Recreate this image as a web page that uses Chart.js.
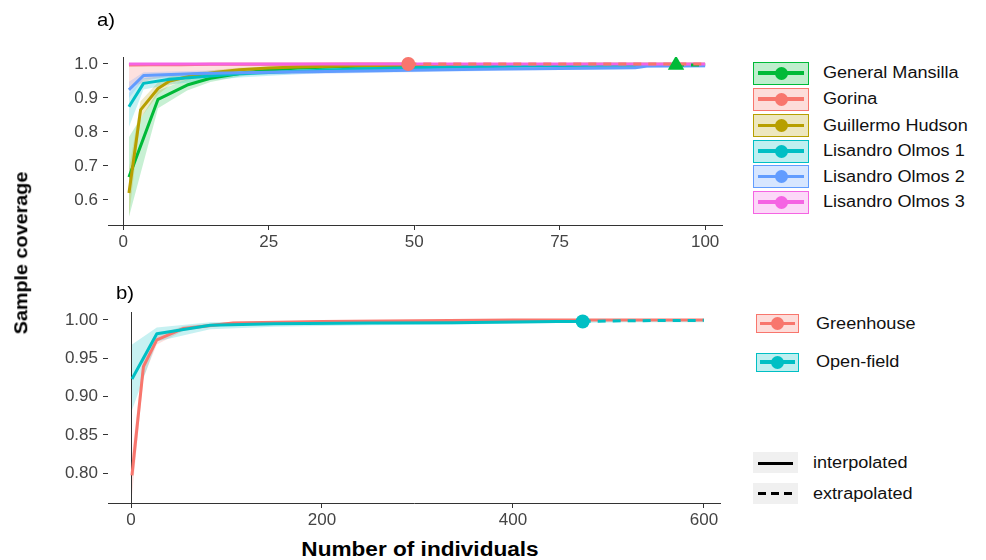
<!DOCTYPE html>
<html><head><meta charset="utf-8">
<script src="https://cdn.jsdelivr.net/npm/chart.js@4/dist/chart.umd.min.js"></script>
<style>
html,body{margin:0;padding:0;background:#fff;width:986px;height:560px;overflow:hidden;font-family:"Liberation Sans",Arial,sans-serif;}
.cw{position:absolute;left:0;}
.t{position:absolute;white-space:nowrap;color:#000;line-height:1;}
.lt{transform-origin:0 50%;transform:translateY(-50%) scaleX(1.13);font-size:16px;color:#111;}
.box{position:absolute;box-sizing:border-box;}
.ln{position:absolute;}
.dot{position:absolute;border-radius:50%;}
</style></head><body>
<div class="cw" style="top:0;width:740px;height:250px;"><canvas id="ca" width="740" height="250"></canvas></div>
<div class="cw" style="top:260px;width:740px;height:270px;"><canvas id="cb" width="740" height="270"></canvas></div>
<div id="overlay"></div>
<script>
// ---------- axis ticks ----------
const xTicksA = [0, 25, 50, 75, 100];
const yTicksA = [0.6, 0.7, 0.8, 0.9, 1.0];
const xTicksB = [0, 200, 400, 600];
const yTicksB = [0.80, 0.85, 0.90, 0.95, 1.00];

// ---------- panel a: sites ----------
const sitesA = ["General Mansilla", "Gorina", "Guillermo Hudson", "Lisandro Olmos 1", "Lisandro Olmos 2", "Lisandro Olmos 3"];
const colorsA = ["#00BA38", "#F8766D", "#B79F00", "#00BFC4", "#619CFF", "#F564E3"];
const obsA = [95, 49, null, null, null, null];
const shapesA = ["triangle", "circle", "circle", "circle", "circle", "circle"];

const mGM   = [1, 6, 11, 15, 20, 25, 30, 40, 50, 60, 70, 80, 95, 100];
const covGM = [0.667, 0.896, 0.938, 0.958, 0.972, 0.982, 0.988, 0.993, 0.995, 0.996, 0.997, 0.997, 0.997, 0.997];
const loGM  = [0.550, 0.870, 0.922, 0.947, 0.963, 0.975, 0.983, 0.990, 0.992, 0.994, 0.995, 0.995, 0.995, 0.995];
const hiGM  = [0.785, 0.922, 0.954, 0.969, 0.981, 0.989, 0.993, 0.996, 0.998, 0.999, 0.999, 0.999, 0.999, 0.999];

const mGO   = [1, 5, 10, 15, 20, 25, 30, 40, 49, 60, 70, 80, 90, 100];
const covGO = [0.997, 0.998, 0.998, 0.999, 0.999, 0.999, 0.999, 1.0, 1.0, 1.0, 1.0, 1.0, 1.0, 1.0];
const loGO  = [0.930, 0.955, 0.970, 0.978, 0.983, 0.987, 0.990, 0.993, 0.995, 0.997, 0.998, 0.999, 0.999, 0.999];
const hiGO  = [1.0, 1.0, 1.0, 1.0, 1.0, 1.0, 1.0, 1.0, 1.0, 1.0, 1.0, 1.0, 1.0, 1.0];

const mGH   = [1, 3, 6, 8, 12, 16, 20, 25, 30, 40, 50, 60, 70, 80, 90, 100];
const covGH = [0.620, 0.865, 0.928, 0.950, 0.966, 0.976, 0.983, 0.988, 0.991, 0.995, 0.997, 0.998, 0.998, 0.999, 0.999, 0.999];
const loGH  = [0.550, 0.840, 0.910, 0.937, 0.957, 0.969, 0.977, 0.984, 0.988, 0.993, 0.995, 0.996, 0.997, 0.998, 0.998, 0.998];
const hiGH  = [0.690, 0.890, 0.946, 0.963, 0.975, 0.983, 0.989, 0.992, 0.994, 0.997, 0.999, 1.0, 1.0, 1.0, 1.0, 1.0];

const mL1   = [1, 3.5, 8, 15, 20, 30, 40, 50, 60, 70, 80, 90, 100];
const covL1 = [0.874, 0.943, 0.955, 0.965, 0.971, 0.979, 0.985, 0.989, 0.992, 0.994, 0.996, 0.997, 0.998];
const loL1  = [0.815, 0.925, 0.940, 0.952, 0.960, 0.970, 0.978, 0.983, 0.987, 0.990, 0.992, 0.994, 0.995];
const hiL1  = [0.915, 0.958, 0.967, 0.975, 0.980, 0.986, 0.991, 0.994, 0.996, 0.997, 0.998, 0.999, 0.999];

const mL2   = [1, 3.5, 13, 25, 35, 44, 55, 65, 75, 88, 90, 100];
const covL2 = [0.924, 0.966, 0.972, 0.976, 0.978, 0.980, 0.983, 0.985, 0.987, 0.989, 0.994, 0.995];
const loL2  = [0.900, 0.955, 0.963, 0.968, 0.971, 0.974, 0.977, 0.980, 0.982, 0.985, 0.988, 0.990];
const hiL2  = [0.948, 0.976, 0.980, 0.983, 0.985, 0.986, 0.988, 0.990, 0.992, 0.995, 0.997, 0.999];

const mL3   = [1, 100];
const covL3 = [1.0, 1.0];
const loL3  = [1.0, 1.0];
const hiL3  = [1.0, 1.0];

// ---------- panel b: systems ----------
const systemsB = ["Greenhouse", "Open-field"];
const colorsB = ["#F8766D", "#00BFC4"];
const obsB = [null, 473];

const mGR   = [1, 13, 27, 55, 107, 200, 300, 400, 500, 600];
const covGR = [0.797, 0.939, 0.974, 0.989, 0.996, 0.998, 0.999, 1.0, 1.0, 1.0];
const loGR  = [0.770, 0.925, 0.968, 0.986, 0.994, 0.997, 0.998, 0.999, 0.999, 0.999];
const hiGR  = [0.824, 0.953, 0.980, 0.992, 0.998, 0.999, 1.0, 1.0, 1.0, 1.0];

const mOF   = [1, 27, 83, 150, 250, 337, 400, 446, 473, 520, 600];
const covOF = [0.923, 0.982, 0.993, 0.995, 0.996, 0.9965, 0.9975, 0.998, 0.998, 0.999, 0.9995];
const loOF  = [0.882, 0.972, 0.988, 0.991, 0.993, 0.994, 0.995, 0.996, 0.996, 0.997, 0.997];
const hiOF  = [0.968, 0.990, 0.997, 0.998, 0.998, 0.998, 0.999, 1.0, 1.0, 1.0, 1.0];

// ---------- helpers ----------
function rgba(hex, a) {
  const n = parseInt(hex.slice(1), 16);
  return `rgba(${(n >> 16) & 255},${(n >> 8) & 255},${n & 255},${a})`;
}
function pts(m, v) { return m.map((x, j) => ({ x: x, y: v[j] })); }

function buildDatasets(series) {
  const ds = [];
  series.forEach((s, i) => {
    ds.push({ data: pts(s.m, s.hi), borderWidth: 0, pointRadius: 0, fill: '+1',
      backgroundColor: rgba(s.color, 0.22), order: 200 - i });
    ds.push({ data: pts(s.m, s.lo), borderWidth: 0, pointRadius: 0, fill: false, order: 200 - i });
  });
  series.forEach((s, i) => {
    const all = pts(s.m, s.cov);
    const inter = s.obs == null ? all : all.filter(p => p.x <= s.obs);
    ds.push({ data: inter, borderColor: s.color, borderWidth: 3, pointRadius: 0, fill: false,
      borderCapStyle: 'butt', borderJoinStyle: 'round', order: 100 - i });
  });
  series.forEach((s, i) => {
    if (s.obs == null) return;
    const all = pts(s.m, s.cov);
    const extra = all.filter(p => p.x >= s.obs);
    ds.push({ data: extra, borderColor: s.color, borderWidth: 3, borderDash: [8, 7], pointRadius: 0, fill: false,
      borderCapStyle: 'butt', order: 50 - i });
    const j = s.m.indexOf(s.obs);
    ds.push({ data: [{ x: s.obs, y: s.cov[j] }], showLine: false, pointStyle: s.shape,
      pointRadius: s.shape === 'triangle' ? 9.5 : 7, backgroundColor: s.color, borderColor: s.color,
      borderWidth: 0, order: 10 - i });
  });
  return ds;
}

const zeroLine = {
  id: 'zeroLine',
  beforeDatasetsDraw(chart) {
    const { ctx, chartArea, scales } = chart;
    const px = Math.round(scales.x.getPixelForValue(0)) + 0.5;
    ctx.save();
    ctx.strokeStyle = '#333'; ctx.lineWidth = 1;
    ctx.beginPath(); ctx.moveTo(px, chartArea.top); ctx.lineTo(px, chartArea.bottom); ctx.stroke();
    ctx.restore();
  }
};

function makeChart(id, datasets, xr, yr, xt, yt, dec, padTop, padRight, xh) {
  const tickFont = { family: "'Liberation Sans', Arial, sans-serif", size: 17 };
  return new Chart(document.getElementById(id), {
    type: 'line',
    data: { datasets },
    plugins: [zeroLine],
    options: {
      responsive: false, animation: false, devicePixelRatio: 1,
      layout: { padding: { top: padTop, right: padRight, left: 0, bottom: 0 } },
      plugins: { legend: { display: false }, tooltip: { enabled: false } },
      elements: { line: { tension: 0 } },
      scales: {
        x: {
          type: 'linear', min: xr[0], max: xr[1],
          afterBuildTicks: s => { s.ticks = xt.map(v => ({ value: v })); },
          afterFit: s => { s.height = xh; },
          grid: { drawOnChartArea: false, drawTicks: true, tickLength: 5, color: '#333', tickColor: '#333' },
          border: { display: true, color: '#333', width: 1 },
          ticks: { color: '#444', font: tickFont, padding: 2, maxRotation: 0, autoSkip: false,
            callback: v => String(v) }
        },
        y: {
          type: 'linear', min: yr[0], max: yr[1],
          afterBuildTicks: s => { s.ticks = yt.map(v => ({ value: v })); },
          afterFit: s => { s.width = 108; },
          grid: { drawOnChartArea: false, drawTicks: true, tickLength: 5, color: '#333', tickColor: '#333' },
          border: { display: false },
          ticks: { color: '#444', font: tickFont, padding: 5, autoSkip: false,
            callback: v => Number(v).toFixed(dec) }
        }
      }
    }
  });
}

const seriesA = [
  { m: mGM, cov: covGM, lo: loGM, hi: hiGM },
  { m: mGO, cov: covGO, lo: loGO, hi: hiGO },
  { m: mGH, cov: covGH, lo: loGH, hi: hiGH },
  { m: mL1, cov: covL1, lo: loL1, hi: hiL1 },
  { m: mL2, cov: covL2, lo: loL2, hi: hiL2 },
  { m: mL3, cov: covL3, lo: loL3, hi: hiL3 }
].map((s, i) => Object.assign(s, { name: sitesA[i], color: colorsA[i], obs: obsA[i], shape: shapesA[i] }));

const seriesB = [
  { m: mGR, cov: covGR, lo: loGR, hi: hiGR },
  { m: mOF, cov: covOF, lo: loOF, hi: hiOF }
].map((s, i) => Object.assign(s, { name: systemsB[i], color: colorsB[i], obs: obsB[i], shape: 'circle' }));

makeChart('ca', buildDatasets(seriesA), [-2.6, 102.9], [0.526, 1.0206], xTicksA, yTicksA, 1, 57, 18, 25);
makeChart('cb', buildDatasets(seriesB), [-24.1, 616.8], [0.761, 1.0104], xTicksB, yTicksB, 2, 52, 20, 27);

// ---------- text & legends (HTML) ----------
const ov = document.getElementById('overlay');
function el(cls, css, text) {
  const d = document.createElement('div');
  d.className = cls; d.style.cssText = css;
  if (text != null) d.textContent = text;
  ov.appendChild(d); return d;
}
el('t', 'left:97px;top:20px;font-size:18px;transform-origin:0 50%;transform:translateY(-50%) scaleX(1.13);', 'a)');
el('t', 'left:116px;top:293px;font-size:18px;transform-origin:0 50%;transform:translateY(-50%) scaleX(1.13);', 'b)');
el('t', 'left:22px;top:253px;font-size:17.5px;font-weight:bold;transform:translate(-50%,-50%) rotate(-90deg) scaleX(1.13);', 'Sample coverage');
el('t', 'left:420px;top:549px;font-size:20px;font-weight:bold;transform:translate(-50%,-50%) scaleX(1.13);', 'Number of individuals');

const rowsA = [73, 99, 125.5, 151, 176.5, 202];
seriesA.forEach((s, i) => {
  const cy = rowsA[i];
  el('box', `left:753px;top:${cy - 11.5}px;width:56px;height:23px;border:1.5px solid ${s.color};background:${rgba(s.color, 0.25)};`);
  el('ln', `left:758px;top:${cy - 1.75}px;width:46px;height:3.5px;background:${s.color};`);
  el('dot', `left:${781 - 6.5}px;top:${cy - 6.5}px;width:13px;height:13px;background:${s.color};`);
  el('t lt', `left:823px;top:${cy}px;`, s.name);
});
const rowsB = [323.5, 362];
seriesB.forEach((s, i) => {
  const cy = rowsB[i];
  el('box', `left:756px;top:${cy - 9.5}px;width:43px;height:19px;border:1.5px solid ${s.color};background:${rgba(s.color, 0.25)};`);
  el('ln', `left:760px;top:${cy - 1.75}px;width:35px;height:3.5px;background:${s.color};`);
  el('dot', `left:${777.5 - 6.5}px;top:${cy - 6.5}px;width:13px;height:13px;background:${s.color};`);
  el('t lt', `left:816px;top:${cy}px;`, s.name);
});
el('box', 'left:753px;top:452px;width:45px;height:21px;background:#f0f0f0;');
el('ln', 'left:758px;top:461.5px;width:35px;height:3px;background:#000;');
el('t lt', 'left:813px;top:463px;', 'interpolated');
el('box', 'left:753px;top:483px;width:45px;height:21px;background:#f0f0f0;');
el('ln', 'left:758px;top:492px;width:35px;height:3px;background:repeating-linear-gradient(to right,#000 0 8px,transparent 8px 13px);');
el('t lt', 'left:813px;top:493.5px;', 'extrapolated');
</script>
</body></html>
